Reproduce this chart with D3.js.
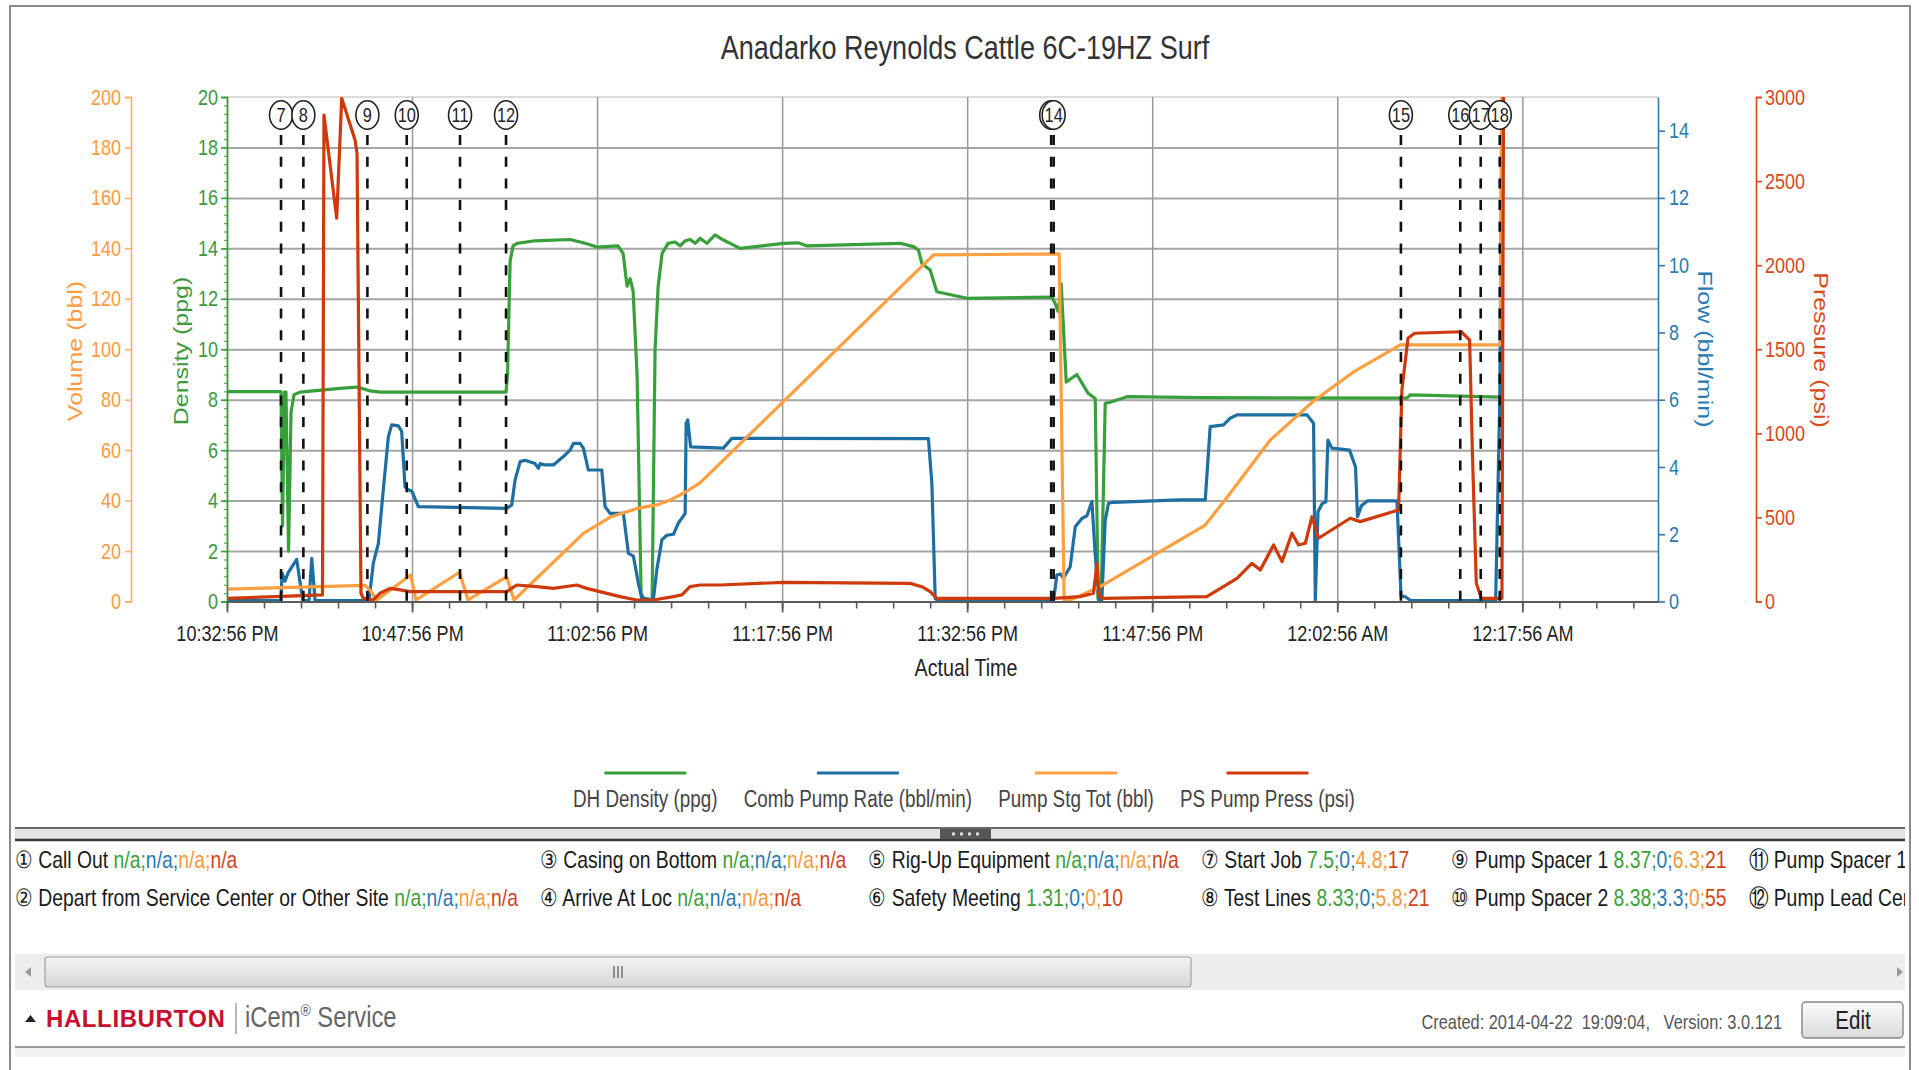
<!DOCTYPE html>
<html><head><meta charset="utf-8">
<script src="https://cdn.jsdelivr.net/npm/d3@7"></script>
<style>
html,body{margin:0;padding:0;background:#fff;overflow:hidden;}
svg{display:block;}
text{font-family:"Liberation Sans",Arial,sans-serif;}
</style></head><body>
<svg id="chart" width="1919" height="1070"></svg>
<script>
// ---------------- DATA ----------------
const chartTitle = "Anadarko Reynolds Cattle 6C-19HZ Surf";
const jobStart = new Date(2014, 3, 21, 22, 32, 56);   // 10:32:56 PM
const spanMinutes = 116;
const seriesNames = ["DH Density (ppg)", "Comb Pump Rate (bbl/min)", "Pump Stg Tot (bbl)", "PS Pump Press (psi)"];
// [minutes after 10:32:56 PM, value]
const densityData = [[0,8.32],[4.38,8.32],[4.50,3.0],[4.66,8.3],[4.78,8.3],[4.99,2.0],[5.19,7.5],[5.43,8.2],[5.92,8.3],[9.16,8.45],[10.54,8.5],[11.59,8.35],[12.41,8.3],[22.62,8.3],[22.74,9.0],[22.95,13.5],[23.19,14.1],[23.51,14.2],[24.97,14.3],[27.81,14.35],[29.03,14.2],[30.0,14.05],[31.70,14.1],[32.11,13.8],[32.43,12.5],[32.68,12.8],[32.92,12.3],[33.24,9.0],[33.57,0.3],[33.89,0.05],[34.46,0.05],[34.70,10],[34.95,12.5],[35.27,13.8],[35.76,14.2],[36.32,14.25],[36.73,14.1],[37.14,14.3],[37.54,14.35],[37.95,14.2],[38.35,14.4],[38.89,14.2],[39.57,14.53],[40.24,14.33],[41.59,14.0],[45.11,14.2],[46.32,14.22],[46.97,14.1],[54.57,14.2],[55.65,14.07],[56.05,13.93],[56.33,13.4],[57.0,13.14],[57.54,12.28],[59.98,12.02],[66.87,12.07],[67.14,11.8],[67.38,11.5],[67.62,12.6],[68.03,8.7],[68.89,9.0],[69.81,8.25],[70.38,8.05],[70.62,0.1],[70.86,0.1],[71.19,7.86],[71.59,7.9],[72.97,8.12],[78.89,8.08],[95.65,8.06],[95.92,8.19],[103.30,8.1],[103.50,25]];
const flowData = [[0,0.03],[4.38,0.03],[4.46,0.85],[4.70,0.6],[4.95,0.85],[5.65,1.25],[6.14,0.03],[6.65,0.03],[6.87,1.28],[7.14,0.03],[11.51,0.03],[11.86,1.14],[12.27,1.73],[12.67,3.32],[13.08,4.9],[13.35,5.25],[13.89,5.22],[14.16,5.06],[14.43,3.41],[14.70,3.32],[14.98,3.28],[15.51,2.82],[22.68,2.77],[23.08,2.87],[23.35,3.61],[23.76,4.16],[24.16,4.2],[24.97,4.1],[25.24,3.96],[25.38,4.1],[25.78,4.06],[26.46,4.06],[27.27,4.31],[27.81,4.5],[28.08,4.7],[28.62,4.7],[28.89,4.56],[29.29,3.91],[30.38,3.91],[30.65,2.82],[31.05,2.62],[32.13,2.62],[32.54,1.43],[32.94,1.35],[33.35,0.54],[33.62,0.1],[34.56,0.05],[34.84,0.94],[35.25,1.83],[35.65,1.97],[36.19,2.0],[36.59,2.33],[37.14,2.62],[37.22,5.3],[37.35,5.4],[37.58,4.6],[40.24,4.56],[40.92,4.85],[56.86,4.84],[57.14,3.5],[57.41,0.08],[57.81,0.03],[67.0,0.03],[67.27,0.79],[67.54,0.82],[67.81,0.7],[68.35,1.03],[68.76,2.22],[69.30,2.47],[69.71,2.55],[70.11,2.97],[70.38,1.4],[70.65,0.05],[70.92,0.05],[71.19,2.42],[71.46,2.92],[71.86,2.95],[77.27,3.02],[79.30,3.02],[79.70,5.2],[80.78,5.25],[81.32,5.45],[81.87,5.55],[87.54,5.55],[88.08,5.3],[88.22,0.04],[88.44,2.67],[88.76,2.9],[89.08,2.97],[89.24,4.8],[89.56,4.56],[91.0,4.5],[91.48,4.0],[91.64,2.52],[91.96,2.85],[92.43,2.99],[94.84,2.99],[95.17,0.15],[95.48,0.15],[95.96,0.03],[102.84,0.03],[103.17,5.9],[103.38,16]];
const volumeData = [[0,4.9],[11.19,6.4],[11.59,4.5],[12.16,0.6],[14.88,10.5],[15.32,0.6],[18.85,11.6],[19.54,0.6],[22.66,9.8],[23.27,0.6],[28.89,27],[31.14,33.6],[33.24,36.9],[34.86,38.3],[35.92,40.2],[37.22,43.5],[38.35,47],[57.27,137.4],[67.46,137.8],[67.86,0.6],[68.35,0.6],[70.78,5.9],[79.30,30.3],[81.32,42.9],[84.57,64],[88.08,79.5],[91.32,91],[93.22,96.4],[95.11,101.7],[103.22,101.7],[103.34,220]];
const pressureData = [[0,19],[7.74,39],[7.86,2893],[8.89,2279],[9.30,2992],[10.38,2744],[10.54,2666],[10.86,49],[11.05,19],[11.86,9],[12.41,49],[13.22,78],[14.03,69],[14.84,59],[22.68,59],[23.49,98],[25.11,88],[26.46,78],[28.35,98],[29.16,78],[31.86,29],[33.22,9],[34.56,9],[36.19,29],[36.87,39],[37.54,88],[38.35,98],[39.97,98],[45.11,114],[55.38,108],[56.33,88],[57.0,59],[57.54,19],[67.0,19],[69.16,29],[70.24,49],[70.52,227],[70.70,29],[71.05,19],[79.43,29],[81.87,138],[83.08,227],[83.76,187],[84.84,336],[85.52,237],[86.33,406],[86.86,336],[87.41,346],[87.95,504],[88.48,376],[91.05,495],[91.86,475],[94.97,544],[95.24,1258],[95.73,1565],[96.27,1595],[100.05,1604],[100.73,1555],[100.95,900],[101.27,108],[101.68,19],[103.35,19],[103.49,3300]];
// chart event markers
const markerNumbers = [7,8,9,10,11,12,13,14,15,16,17,18];
const markerMinutes = [4.38,6.19,11.38,14.57,18.89,22.62,66.81,67.01,95.16,99.97,101.63,103.17];
// axis ticks
const densityTicks = [0,2,4,6,8,10,12,14,16,18,20];
const volumeTicks = [0,20,40,60,80,100,120,140,160,180,200];
const flowTicks = [0,2,4,6,8,10,12,14];
const pressureTicks = [0,500,1000,1500,2000,2500,3000];
const majorTickMinutes = [0,15,30,45,60,75,90,105];
// event list
const eventNames = ["Call Out","Depart from Service Center or Other Site","Casing on Bottom","Arrive At Loc","Rig-Up Equipment","Safety Meeting","Start Job","Test Lines","Pump Spacer 1","Pump Spacer 2","Pump Spacer 1","Pump Lead Cement"];
const eventValues = [["n/a","n/a","n/a","n/a"],["n/a","n/a","n/a","n/a"],["n/a","n/a","n/a","n/a"],["n/a","n/a","n/a","n/a"],["n/a","n/a","n/a","n/a"],["1.31","0","0","10"],["7.5","0","4.8","17"],["8.33","0","5.8","21"],["8.37","0","6.3","21"],["8.38","3.3","0","55"],[],[]];
const footerInfo = "Created: 2014-04-22\u00a0\u00a019:09:04,\u00a0\u00a0\u00a0Version: 3.0.121";

// ---------------- STYLE ----------------
const cGreen="#37a03a", cBlue="#1d6fa3", cOrange="#ff9f40", cRed="#cf3a0c";
const tGreen="#3c9a3c", tBlue="#2b7bb0", tOrange="#ff9a40", tRed="#d9481a";
const K = 0.82;   // horizontal squeeze of the screenshot text
const P = {left:227, right:1658, top:97, bottom:601.5};

const svg = d3.select("#chart");
const defs = svg.append("defs");
defs.append("clipPath").attr("id","plotClip").append("rect")
  .attr("x",P.left).attr("y",P.top).attr("width",P.right-P.left).attr("height",P.bottom-P.top);
defs.append("clipPath").attr("id","listClip").append("rect")
  .attr("x",14).attr("y",842).attr("width",1891).attr("height",100);
const g1 = defs.append("linearGradient").attr("id","btnGrad").attr("x1",0).attr("y1",0).attr("x2",0).attr("y2",1);
g1.append("stop").attr("offset","0%").attr("stop-color","#fbfbfb");
g1.append("stop").attr("offset","100%").attr("stop-color","#dadada");
const g2 = defs.append("linearGradient").attr("id","thumbGrad").attr("x1",0).attr("y1",0).attr("x2",0).attr("y2",1);
g2.append("stop").attr("offset","0%").attr("stop-color","#f4f4f4");
g2.append("stop").attr("offset","100%").attr("stop-color","#d6d6d6");

function squeeze(sel, k){
  sel.each(function(){
    const t=d3.select(this);
    const tx=+(t.attr("x")||0), ty=+(t.attr("y")||0);
    t.attr("x",null).attr("y",null).attr("transform",`translate(${tx},${ty}) scale(${k},1)`);
  });
}
const toDate = m => new Date(jobStart.getTime() + m*60000);

// scales
const x = d3.scaleTime().domain([jobStart, toDate(spanMinutes)]).range([P.left, P.right]);
const yDen = d3.scaleLinear().domain([0,20]).range([P.bottom,P.top]);
const yVol = d3.scaleLinear().domain([0,200]).range([P.bottom,P.top]);
const yFlow = d3.scaleLinear().domain([0,15]).range([P.bottom,P.top]);
const yPres = d3.scaleLinear().domain([0,3000]).range([P.bottom,P.top]);

// outer frame
svg.append("path").attr("d","M10,1070 V6 H1910 V1070").attr("fill","none").attr("stroke","#8a8a8a").attr("stroke-width",2);

// title
svg.append("text").attr("x",965).attr("y",59).attr("text-anchor","middle")
  .attr("font-size",33).attr("fill","#333").text(chartTitle).call(squeeze,K);

// grid
svg.append("line").attr("x1",P.left).attr("x2",P.right).attr("y1",P.top).attr("y2",P.top).attr("stroke","#dcdcdc").attr("stroke-width",2);
svg.append("g").attr("transform",`translate(${P.left},0)`)
  .call(d3.axisLeft(yDen).tickValues(densityTicks.filter(v=>v>0&&v<20)).tickSize(-(P.right-P.left)).tickFormat(""))
  .call(g=>g.select(".domain").remove())
  .selectAll("line").attr("stroke","#a5a5a5").attr("stroke-width",2);
svg.append("g").attr("transform",`translate(0,${P.bottom})`)
  .call(d3.axisBottom(x).tickValues(majorTickMinutes.map(toDate)).tickSize(-(P.bottom-P.top)).tickFormat(""))
  .call(g=>g.select(".domain").remove())
  .selectAll("line").attr("stroke","#9a9a9a").attr("stroke-width",1.5);

// series
const plot = svg.append("g").attr("clip-path","url(#plotClip)");
function drawSeries(data, yScale, color){
  const line = d3.line().x(d=>x(toDate(d[0]))).y(d=>yScale(d[1]));
  plot.append("path").datum(data).attr("d",line).attr("fill","none")
    .attr("stroke",color).attr("stroke-width",3.2).attr("stroke-linejoin","round").attr("stroke-linecap","round");
}
drawSeries(densityData, yDen, cGreen);
drawSeries(flowData, yFlow, cBlue);
drawSeries(volumeData, yVol, cOrange);
drawSeries(pressureData, yPres, cRed);

// event markers
const mk = svg.append("g");
markerMinutes.forEach((m)=>{
  const xx = x(toDate(m));
  mk.append("line").attr("x1",xx).attr("x2",xx).attr("y1",135).attr("y2",P.bottom)
    .attr("stroke","#111").attr("stroke-width",2.6).attr("stroke-dasharray","10,11.7");
});
markerMinutes.forEach((m,i)=>{
  const xx = x(toDate(m));
  mk.append("ellipse").attr("cx",xx).attr("cy",115).attr("rx",11.5).attr("ry",14.3)
    .attr("fill","#fff").attr("stroke","#222").attr("stroke-width",1.6);
  mk.append("text").attr("x",xx).attr("y",122).attr("text-anchor","middle")
    .attr("font-size",20).attr("fill","#222").text(markerNumbers[i]).call(squeeze,K);
});

// axes
function styleAxis(g, color, textColor){
  g.selectAll("path.domain").attr("stroke",color).attr("stroke-width",1.6);
  g.selectAll(".tick line").attr("stroke",color).attr("stroke-width",1.6);
  g.selectAll("text").attr("fill",textColor).attr("font-size",22).attr("font-family",'"Liberation Sans",Arial,sans-serif');
}
const plain = d3.format("d");
// volume (orange)
const axVol = svg.append("g").attr("transform","translate(131,0)")
  .call(d3.axisLeft(yVol).tickValues(volumeTicks).tickSize(6).tickPadding(4).tickFormat(plain));
styleAxis(axVol,"#ffb06a",tOrange); axVol.selectAll("text").call(squeeze,K);
// density (green) minor ticks + major
const axDenMinor = svg.append("g").attr("transform",`translate(${P.left},0)`)
  .call(d3.axisLeft(yDen).tickValues(d3.range(0,20.001,1/3)).tickSize(3).tickFormat(""));
axDenMinor.select(".domain").remove();
axDenMinor.selectAll("line").attr("stroke","#5aaa5a").attr("stroke-width",1.2);
const axDen = svg.append("g").attr("transform",`translate(${P.left},0)`)
  .call(d3.axisLeft(yDen).tickValues(densityTicks).tickSize(6).tickPadding(3).tickFormat(plain));
styleAxis(axDen,"#3c9a3c",tGreen); axDen.selectAll("text").call(squeeze,K);
// flow (blue)
const axFlow = svg.append("g").attr("transform",`translate(${P.right},0)`)
  .call(d3.axisRight(yFlow).tickValues(flowTicks).tickSize(7).tickSizeOuter(0).tickPadding(4).tickFormat(plain));
styleAxis(axFlow,"#2b7bb0",tBlue); axFlow.selectAll("text").call(squeeze,K);
// pressure (red)
const axPres = svg.append("g").attr("transform","translate(1756,0)")
  .call(d3.axisRight(yPres).tickValues(pressureTicks).tickSize(6).tickPadding(3).tickFormat(plain));
styleAxis(axPres,"#d9481a",tRed); axPres.selectAll("text").call(squeeze,K);
// time axis
const fmt = d3.timeFormat("%-I:%M:%S %p");
const axXMinor = svg.append("g").attr("transform",`translate(0,${P.bottom})`)
  .call(d3.axisBottom(x).tickValues(d3.range(0,spanMinutes+0.01,3).map(toDate)).tickSize(7).tickSizeOuter(0).tickFormat(""));
axXMinor.select(".domain").attr("stroke","#5a5a5a").attr("stroke-width",2.2);
axXMinor.selectAll("line").attr("stroke","#5a5a5a").attr("stroke-width",1.6);
const axX = svg.append("g").attr("transform",`translate(0,${P.bottom})`)
  .call(d3.axisBottom(x).tickValues(majorTickMinutes.map(toDate)).tickSize(11).tickSizeOuter(0).tickPadding(13).tickFormat(fmt));
axX.select(".domain").remove();
axX.selectAll("line").attr("stroke","#5a5a5a").attr("stroke-width",1.8);
axX.selectAll("text").attr("fill","#222").attr("font-size",22).call(squeeze,K);

// axis titles
svg.append("text").attr("x",966).attr("y",676).attr("text-anchor","middle").attr("font-size",24).attr("fill","#222").text("Actual Time").call(squeeze,K);
function vTitle(txt,cx,cy,angle,color){
  svg.append("text").attr("transform",`translate(${cx},${cy}) rotate(${angle}) scale(1,${K})`)
    .attr("text-anchor","middle").attr("dy","0.35em").attr("font-size",25).attr("fill",color).text(txt);
}
vTitle("Volume (bbl)",75,351,-90,tOrange);
vTitle("Density (ppg)",181,351,-90,tGreen);
vTitle("Flow (bbl/min)",1705,349,90,tBlue);
vTitle("Pressure (psi)",1821,350,90,tRed);

// legend
const legendColors=[cGreen,cBlue,cOrange,cRed];
const lg = svg.append("g");
const items = seriesNames.map((n,i)=>{
  const t = lg.append("text").attr("font-size",23).attr("fill","#444").text(n);
  return {t, w:t.node().getComputedTextLength()*K, i};
});
const gap=26;
const totalW = d3.sum(items,d=>d.w)+gap*(items.length-1);
let lx = 964 - totalW/2;
items.forEach(d=>{
  const cx = lx + d.w/2;
  d.t.attr("x",lx).attr("y",807).call(squeeze,K);
  lg.append("line").attr("x1",cx-41).attr("x2",cx+41).attr("y1",773).attr("y2",773)
    .attr("stroke",legendColors[d.i]).attr("stroke-width",3);
  lx += d.w + gap;
});

// splitter bar
svg.append("rect").attr("x",15).attr("y",828).attr("width",1890).attr("height",12).attr("fill","#e4e4e4");
svg.append("line").attr("x1",15).attr("x2",1905).attr("y1",828).attr("y2",828).attr("stroke","#6a6a6a").attr("stroke-width",2);
svg.append("line").attr("x1",15).attr("x2",1905).attr("y1",840).attr("y2",840).attr("stroke","#3a3a3a").attr("stroke-width",2.4);
svg.append("rect").attr("x",940).attr("y",829).attr("width",51).attr("height",10).attr("fill","#555");
[952,960,968,976].forEach(px=>svg.append("rect").attr("x",px).attr("y",832.5).attr("width",3).attr("height",3).attr("fill","#ddd"));

// event list
const valueColors=["#3aa03a","#2a7ab0","#f59a3c","#d2441b"];
const list = svg.append("g").attr("clip-path","url(#listClip)");
const rowY=[868,906];
let colX=15;
for(let c=0;c<6;c++){
  let maxW=0;
  for(let r=0;r<2;r++){
    const i=c*2+r;
    const vals=eventValues[i];
    const t=list.append("text").attr("font-size",23.6).attr("fill","#1a1a1a");
    t.append("tspan").text(String.fromCharCode(0x2460+i)+" "+eventNames[i]+(vals.length?" ":""));
    vals.forEach((v,j)=>t.append("tspan").attr("fill",valueColors[j]).text(v+(j<vals.length-1?";":"")));
    const w=t.node().getComputedTextLength()*K;
    t.attr("transform",`translate(${colX},${rowY[r]}) scale(${K},1)`);
    maxW=Math.max(maxW,w);
  }
  colX+=maxW+22;
}

// scrollbar
svg.append("rect").attr("x",15).attr("y",954).attr("width",1890).attr("height",36).attr("fill","#ededed");
svg.append("path").attr("d","M25,972 L31,967 L31,977 Z").attr("fill","#9a9a9a");
svg.append("path").attr("d","M1903,972 L1897,967 L1897,977 Z").attr("fill","#9a9a9a");
svg.append("rect").attr("x",45).attr("y",957).attr("width",1146).attr("height",30).attr("rx",3)
  .attr("fill","url(#thumbGrad)").attr("stroke","#a0a0a0").attr("stroke-width",1.2);
[614,618,622].forEach(px=>svg.append("line").attr("x1",px).attr("x2",px).attr("y1",966).attr("y2",978).attr("stroke","#555").attr("stroke-width",1.2));

// footer
svg.append("path").attr("d","M25,1022 L30.5,1015 L36,1022 Z").attr("fill","#222");
svg.append("text").attr("x",46).attr("y",1027).attr("font-size",24).attr("font-weight","bold").attr("fill","#c8102e").attr("letter-spacing",0.6).text("HALLIBURTON");
svg.append("line").attr("x1",236).attr("x2",236).attr("y1",1003).attr("y2",1034).attr("stroke","#888").attr("stroke-width",1.2);
const ic = svg.append("text").attr("x",245).attr("y",1027).attr("font-size",29).attr("fill","#666");
ic.append("tspan").text("iCem");
ic.append("tspan").attr("font-size",17).attr("dy",-11).text("®");
ic.append("tspan").attr("dy",11).text(" Service");
ic.call(squeeze,K);
svg.append("text").attr("x",1782).attr("y",1029).attr("text-anchor","end").attr("font-size",20).attr("fill","#555").text(footerInfo).call(squeeze,K);
svg.append("rect").attr("x",1802).attr("y",1002).attr("width",101).attr("height",36).attr("rx",4)
  .attr("fill","url(#btnGrad)").attr("stroke","#858585").attr("stroke-width",1.4);
svg.append("text").attr("x",1853).attr("y",1029).attr("text-anchor","middle").attr("font-size",25).attr("fill","#222").text("Edit").call(squeeze,K);
svg.append("line").attr("x1",15).attr("x2",1905).attr("y1",1047).attr("y2",1047).attr("stroke","#9a9a9a").attr("stroke-width",2);
svg.append("rect").attr("x",15).attr("y",1048).attr("width",1890).attr("height",9).attr("fill","#f1f1f1");
</script>
</body></html>
